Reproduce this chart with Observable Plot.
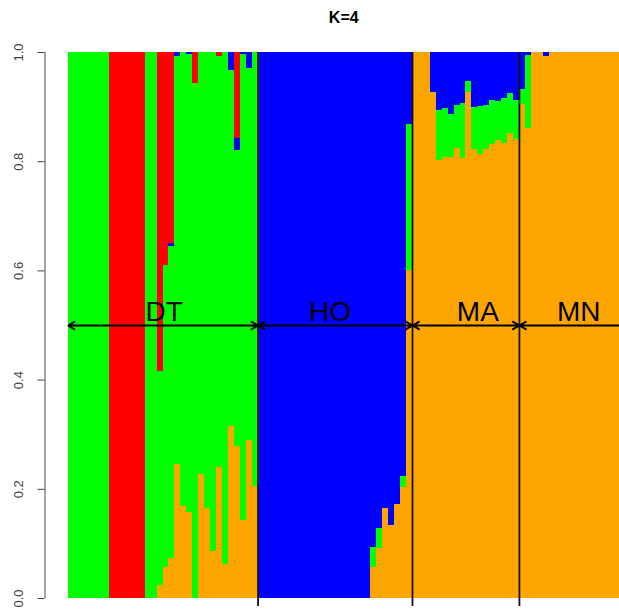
<!DOCTYPE html>
<html><head><meta charset="utf-8">
<script src="https://cdn.jsdelivr.net/npm/d3@7"></script>
<script src="https://cdn.jsdelivr.net/npm/@observablehq/plot@0.6"></script>
<style>html,body{margin:0;padding:0;background:#fff;overflow:hidden}</style>
</head><body><div id="chart"></div>
<script>
const title = "K=4";
const clusterNames = ["Cluster 1", "Cluster 2", "Cluster 3", "Cluster 4"]; // bottom to top
const clusterColors = ["#FFA500", "#00FF00", "#0000FF", "#FF0000"];
const groups = ["DT", "HO", "MA", "MN"];
const groupSizes = [32, 26, 18, 20];
const labelAt = [16.2, 44.1, 69.0, 86.0];
const yTicks = [0, 0.2, 0.4, 0.6, 0.8, 1.0];

// membership coefficients, one entry per individual (DT | HO | MA | MN)
const orange = [
  0,0,0,0,0,0,0,0,0,0,0,0,0,0,0, 0.024,0.056,0.073,0.245,0.168,0.158,0,0.228,0.164,0.086,0.240,0.062,0.315,0.278,0.142,0.289,0.205,
  0,0,0,0,0,0,0,0,0,0,0,0,0,0,0,0,0,0,0, 0.057,0.091,0.164,0.134,0.173,0.204,0.600,
  1,1,1, 0.927,0.803,0.808,0.808,0.825,0.805,0.927,0.822,0.813,0.822,0.831,0.839,0.833,0.851,0.840,
  0.905,0.860,1,1,0.992,1,1,1,1,1,1,1,1,1,1,1,1,1,1,1
];
const green = [
  1,1,1,1,1,1,1,0,0,0,0,0,0,1,1, 0.392,0.554,0.571,0.747,0.832,0.839,0.943,0.772,0.836,0.914,0.753,0.938,0.652,0.542,0.855,0.681,0.795,
  0,0,0,0,0,0,0,0,0,0,0,0,0,0,0,0,0,0,0, 0.037,0.038,0,0,0,0.019,0.269,
  0,0,0, 0,0.091,0.090,0.078,0.078,0.101,0.020,0.078,0.089,0.081,0.081,0.071,0.082,0.073,0.072,
  0.028,0.135,0,0,0,0,0,0,0,0,0,0,0,0,0,0,0,0,0,0
];
const blue = [
  0,0,0,0,0,0,0,0,0,0,0,0,0,0,0, 0,0,0.007,0.008,0,0.003,0,0,0,0,0,0,0.033,0.022,0.003,0.030,0,
  1,1,1,1,1,1,1,1,1,1,1,1,1,1,1,1,1,1,1, 0.906,0.871,0.836,0.866,0.827,0.777,0.131,
  0,0,0, 0.073,0.106,0.102,0.114,0.097,0.094,0.053,0.100,0.098,0.097,0.088,0.090,0.085,0.076,0.088,
  0.067,0.005,0,0,0.008,0,0,0,0,0,0,0,0,0,0,0,0,0,0,0
];
const red = [
  0,0,0,0,0,0,0,1,1,1,1,1,1,0,0, 0.584,0.390,0.349,0,0,0,0.057,0,0,0,0.007,0,0,0.158,0,0,0,
  0,0,0,0,0,0,0,0,0,0,0,0,0,0,0,0,0,0,0, 0,0,0,0,0,0,0,
  0,0,0, 0,0,0,0,0,0,0,0,0,0,0,0,0,0,0,
  0,0,0,0,0,0,0,0,0,0,0,0,0,0,0,0,0,0,0,0
];

const Q = [orange, green, blue, red];
const N = orange.length;
const rows = [];
for (let i = 0; i < N; ++i) {
  let acc = 0;
  for (let k = 0; k < Q.length; ++k) {
    const v = Q[k][i];
    if (v > 0) rows.push({x1: i, x2: i + 1, y1: acc, y2: acc + v, k: clusterNames[k]});
    acc += v;
  }
}
const groupRows = [];
let s = 0;
groups.forEach((g, j) => {
  groupRows.push({name: g, start: s, end: s + groupSizes[j], mid: s + groupSizes[j] / 2, labelAt: labelAt[j]});
  s += groupSizes[j];
});
const boundaries = groupRows.slice(1).map(d => d.start);

const arrowOpts = {y1: 0.5, y2: 0.5, stroke: "black", strokeWidth: 2, headLength: 5.5, headAngle: 60, clip: true};

const chart = Plot.plot({
  width: 619, height: 610,
  marginLeft: 67.5, marginRight: 0, marginTop: 52, marginBottom: 12,
  x: {type: "linear", domain: [0, 92.85], axis: null},
  y: {domain: [0, 1], axis: null},
  color: {domain: clusterNames, range: clusterColors},
  style: {fontFamily: "'Liberation Sans', Arial, sans-serif", background: "white", color: "black"},
  marks: [
    Plot.rect(rows, {x1: "x1", x2: "x2", y1: "y1", y2: "y2", fill: "k", clip: true, shapeRendering: "crispEdges"}),
    Plot.ruleX(boundaries, {y1: 0, y2: 1, stroke: "#111", strokeWidth: 1.8}),
    Plot.axisX(boundaries, {tickSize: 8, tickFormat: () => "", color: "#111", strokeWidth: 1.8}),
    Plot.arrow(groupRows, {x1: "mid", x2: "start", ...arrowOpts}),
    Plot.arrow(groupRows, {x1: "mid", x2: "end", ...arrowOpts}),
    Plot.text(groupRows, {x: "labelAt", y: 0.5, text: "name", fontSize: 28, lineAnchor: "bottom", dy: -5, fill: "black"}),
    Plot.ruleX([0], {y1: 0, y2: 1, dx: -23, stroke: "#444"}),
    Plot.axisY(yTicks, {tickSize: 7, dx: -23, tickRotate: -90, tickPadding: 15, tickFormat: d3.format(".1f"), fontSize: 13, color: "#444"}),
    Plot.text([title], {frameAnchor: "top", dy: -41, fontWeight: "bold", fontSize: 16, fill: "black"})
  ]
});
document.getElementById("chart").appendChild(chart);
</script>
</body></html>
